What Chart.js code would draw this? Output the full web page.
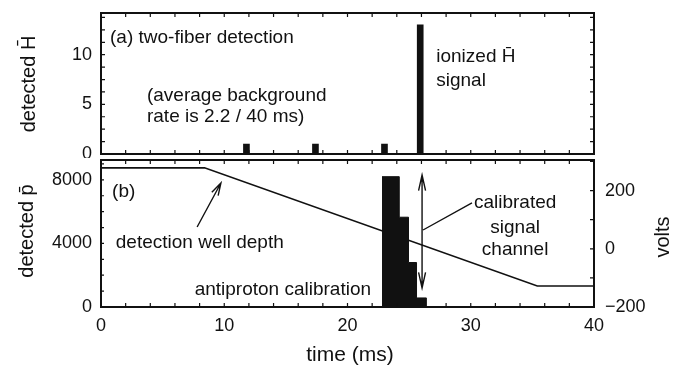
<!DOCTYPE html>
<html>
<head>
<meta charset="utf-8">
<title>two-fiber detection / antiproton calibration</title>
<script src="https://cdn.jsdelivr.net/npm/chart.js@4.4.1/dist/chart.umd.min.js"></script>
<style>
  html, body { margin: 0; padding: 0; background: #fff; }
  #wrap { position: relative; width: 677px; height: 367px; overflow: hidden; }
  .panel { position: absolute; left: 0; width: 677px; }
  #panel-a { top: 0; height: 158px; }
  #panel-b { top: 158px; height: 209px; }
</style>
</head>
<body>
<div id="wrap">
  <div class="panel" id="panel-a"><canvas id="chart-a"></canvas></div>
  <div class="panel" id="panel-b"><canvas id="chart-b"></canvas></div>
</div>
<script>
// (a) detected H-bar counts per time bin
var HBAR_TIMES  = [11.8, 17.4, 23.0, 25.9];
var HBAR_COUNTS = [1, 1, 1, 13];

// (b) antiproton calibration histogram: left bin edges and counts (last edge closes it)
var PBAR_EDGES  = [22.8, 24.2, 24.95, 25.6, 26.4];
var PBAR_COUNTS = [8200, 5650, 2800, 570, 0];

// detection well depth, right axis (volts)
var WELL_TIMES = [0, 8.4, 35.4, 40];
var WELL_VOLTS = [278, 278, -128, -128];

// tick labels
var TIME_TICKS = [0, 10, 20, 30, 40];
var HBAR_TICKS = [0, 5, 10];
var PBAR_TICKS = [0, 4000, 8000];
var VOLT_TICKS = [-200, 0, 200];

var INK = '#111';
var FONT = "'Liberation Sans', Arial, Helvetica, sans-serif";

Chart.defaults.font.family = FONT;
Chart.defaults.font.size = 18;
Chart.defaults.color = INK;

function fixedTicks(list) {
  return function (scale) {
    scale.ticks = list.map(function (v) { return { value: v }; });
  };
}

// fixed axis box size, and no extra room for overhanging end labels
function fixedSize(w, h) {
  return function (s) {
    if (w) s.width = w;
    if (h) s.height = h;
    s.paddingTop = 0; s.paddingBottom = 0;
    s.paddingLeft = 0; s.paddingRight = 0;
  };
}

// plain numbers, real minus sign, no thousands separator
function plain(v) {
  return v < 0 ? '\u2212' + Math.abs(v) : String(v);
}

function text(ctx, str, x, y, size, align, rot) {
  ctx.save();
  ctx.font = size + 'px ' + FONT;
  ctx.fillStyle = INK;
  ctx.textAlign = align || 'left';
  ctx.textBaseline = 'middle';
  ctx.translate(x, y);
  if (rot) ctx.rotate(rot);
  ctx.fillText(str, 0, 0);
  ctx.restore();
}

function arrowHead(ctx, x1, y1, x2, y2, len, spread) {
  var a = Math.atan2(y2 - y1, x2 - x1);
  ctx.moveTo(x2 - len * Math.cos(a - spread), y2 - len * Math.sin(a - spread));
  ctx.lineTo(x2, y2);
  ctx.lineTo(x2 - len * Math.cos(a + spread), y2 - len * Math.sin(a + spread));
}

// inward tick marks along one edge of the plot box
function edgeTicks(ctx, area, scale, step, edge, len) {
  var v = Math.ceil((scale.min - 1e-9) / step) * step;
  for (; v <= scale.max + 1e-9; v += step) {
    var p = scale.getPixelForValue(v);
    if (edge === 'bottom') { ctx.moveTo(p, area.bottom); ctx.lineTo(p, area.bottom - len); }
    if (edge === 'top')    { ctx.moveTo(p, area.top);    ctx.lineTo(p, area.top + len); }
    if (edge === 'left')   { ctx.moveTo(area.left, p);   ctx.lineTo(area.left + len, p); }
    if (edge === 'right')  { ctx.moveTo(area.right, p);  ctx.lineTo(area.right - len, p); }
  }
}

function frame(ctx, area) {
  ctx.save();
  ctx.strokeStyle = INK;
  ctx.lineWidth = 2;
  ctx.strokeRect(area.left, area.top, area.right - area.left, area.bottom - area.top);
  ctx.restore();
}

var panelA = {
  id: 'panelA',
  afterDatasetsDraw: function (chart) {
    var ctx = chart.ctx, area = chart.chartArea;
    var sx = chart.scales.x, sy = chart.scales.y;
    var X = function (v) { return sx.getPixelForValue(v); };
    var Y = function (v) { return sy.getPixelForValue(v); };

    frame(ctx, area);
    ctx.save();
    ctx.strokeStyle = INK;
    ctx.lineWidth = 1.2;
    ctx.beginPath();
    edgeTicks(ctx, area, sx, 2, 'bottom', 4);
    edgeTicks(ctx, area, sx, 2, 'top', 4);
    edgeTicks(ctx, area, sy, 1.25, 'left', 4);
    edgeTicks(ctx, area, sy, 1.25, 'right', 4);
    ctx.stroke();
    ctx.restore();

    text(ctx, '(a) two-fiber detection', X(0.73), Y(11.75), 19);
    text(ctx, '(average background', X(3.73), Y(5.9), 19);
    text(ctx, 'rate is 2.2 / 40 ms)', X(3.73), Y(3.7), 19);
    text(ctx, 'ionized H\u0304', X(27.2), Y(9.8), 19);
    text(ctx, 'signal', X(27.2), Y(7.4), 19);

    text(ctx, 'detected H\u0304', 29, 84, 20, 'center', -Math.PI / 2);
  }
};

var panelB = {
  id: 'panelB',
  afterDatasetsDraw: function (chart) {
    var ctx = chart.ctx, area = chart.chartArea;
    var sx = chart.scales.x, sy = chart.scales.y, sv = chart.scales.y2;
    var X = function (v) { return sx.getPixelForValue(v); };
    var Y = function (v) { return sy.getPixelForValue(v); };

    frame(ctx, area);
    ctx.save();
    ctx.strokeStyle = INK;
    ctx.lineWidth = 1.2;
    ctx.beginPath();
    edgeTicks(ctx, area, sx, 2, 'bottom', 4);
    edgeTicks(ctx, area, sx, 2, 'top', 4);
    edgeTicks(ctx, area, sy, 1000, 'left', 3);
    edgeTicks(ctx, area, sv, 100, 'right', 4);
    ctx.stroke();

    // arrow to the well depth line
    ctx.lineWidth = 1.4;
    ctx.beginPath();
    ctx.moveTo(X(7.8), Y(5035));
    ctx.lineTo(X(9.73), Y(7804));
    arrowHead(ctx, X(7.8), Y(5035), X(9.73), Y(7804), 13, 0.28);
    ctx.stroke();

    // calibrated signal channel: leader and double arrow
    ctx.beginPath();
    ctx.moveTo(X(30.1), Y(6545));
    ctx.lineTo(X(26.13), Y(4846));
    ctx.moveTo(X(26.05), Y(8307));
    ctx.lineTo(X(26.05), Y(1196));
    arrowHead(ctx, X(26.05), Y(1196), X(26.05), Y(8307), 16, 0.22);
    arrowHead(ctx, X(26.05), Y(8307), X(26.05), Y(1196), 16, 0.22);
    ctx.stroke();
    ctx.restore();

    text(ctx, '(b)', X(0.9), Y(7237), 19);
    text(ctx, 'detection well depth', X(1.2), Y(4028), 19);
    text(ctx, 'antiproton calibration', X(7.6), Y(1070), 19);
    text(ctx, 'calibrated', X(33.6), Y(6545), 19, 'center');
    text(ctx, 'signal', X(33.6), Y(5000), 19, 'center');
    text(ctx, 'channel', X(33.6), Y(3587), 19, 'center');

    text(ctx, 'detected p\u0304', 27, 73, 20, 'center', -Math.PI / 2);
    text(ctx, 'volts', 663, 79, 20, 'center', -Math.PI / 2);
    text(ctx, 'time (ms)', 350, 197, 21, 'center');
  }
};

new Chart(document.getElementById('chart-a'), {
  type: 'bar',
  data: {
    datasets: [{
      data: HBAR_TIMES.map(function (t, i) { return { x: t, y: HBAR_COUNTS[i] }; }),
      backgroundColor: INK,
      borderWidth: 0,
      barThickness: 6
    }]
  },
  options: {
    responsive: true,
    maintainAspectRatio: false,
    animation: false,
    devicePixelRatio: 1,
    layout: { padding: { top: 13, right: 83, bottom: 4, left: 0 } },
    plugins: { legend: { display: false }, tooltip: { enabled: false } },
    scales: {
      x: { type: 'linear', display: false, min: 0, max: 40, offset: false },
      y: {
        min: 0, max: 14.2,
        afterFit: fixedSize(101, 0),
        afterBuildTicks: fixedTicks(HBAR_TICKS),
        grid: { display: false, drawTicks: false },
        border: { display: false },
        ticks: { padding: 9, callback: plain }
      }
    }
  },
  plugins: [panelA]
});

new Chart(document.getElementById('chart-b'), {
  type: 'line',
  data: {
    datasets: [{
      data: PBAR_EDGES.map(function (t, i) { return { x: t, y: PBAR_COUNTS[i] }; }),
      yAxisID: 'y',
      stepped: 'before',
      fill: 'origin',
      backgroundColor: INK,
      borderColor: INK,
      borderWidth: 1,
      pointRadius: 0
    }, {
      data: WELL_TIMES.map(function (t, i) { return { x: t, y: WELL_VOLTS[i] }; }),
      yAxisID: 'y2',
      borderColor: INK,
      borderWidth: 1.6,
      pointRadius: 0,
      fill: false,
      tension: 0
    }]
  },
  options: {
    responsive: true,
    maintainAspectRatio: false,
    animation: false,
    devicePixelRatio: 1,
    layout: { padding: { top: 2, right: 0, bottom: 0, left: 0 } },
    plugins: { legend: { display: false }, tooltip: { enabled: false } },
    scales: {
      x: {
        type: 'linear', min: 0, max: 40,
        afterFit: fixedSize(0, 60),
        afterBuildTicks: fixedTicks(TIME_TICKS),
        grid: { display: false, drawTicks: false },
        border: { display: false },
        ticks: { padding: 8, maxRotation: 0, callback: plain }
      },
      y: {
        position: 'left', min: 0, max: 9250,
        afterFit: fixedSize(101, 0),
        afterBuildTicks: fixedTicks(PBAR_TICKS),
        grid: { display: false, drawTicks: false },
        border: { display: false },
        ticks: { padding: 9, callback: plain }
      },
      y2: {
        position: 'right', min: -200, max: 305,
        afterFit: fixedSize(83, 0),
        afterBuildTicks: fixedTicks(VOLT_TICKS),
        grid: { display: false, drawTicks: false },
        border: { display: false },
        ticks: { padding: 11, callback: plain }
      }
    }
  },
  plugins: [panelB]
});
</script>
</body>
</html>
